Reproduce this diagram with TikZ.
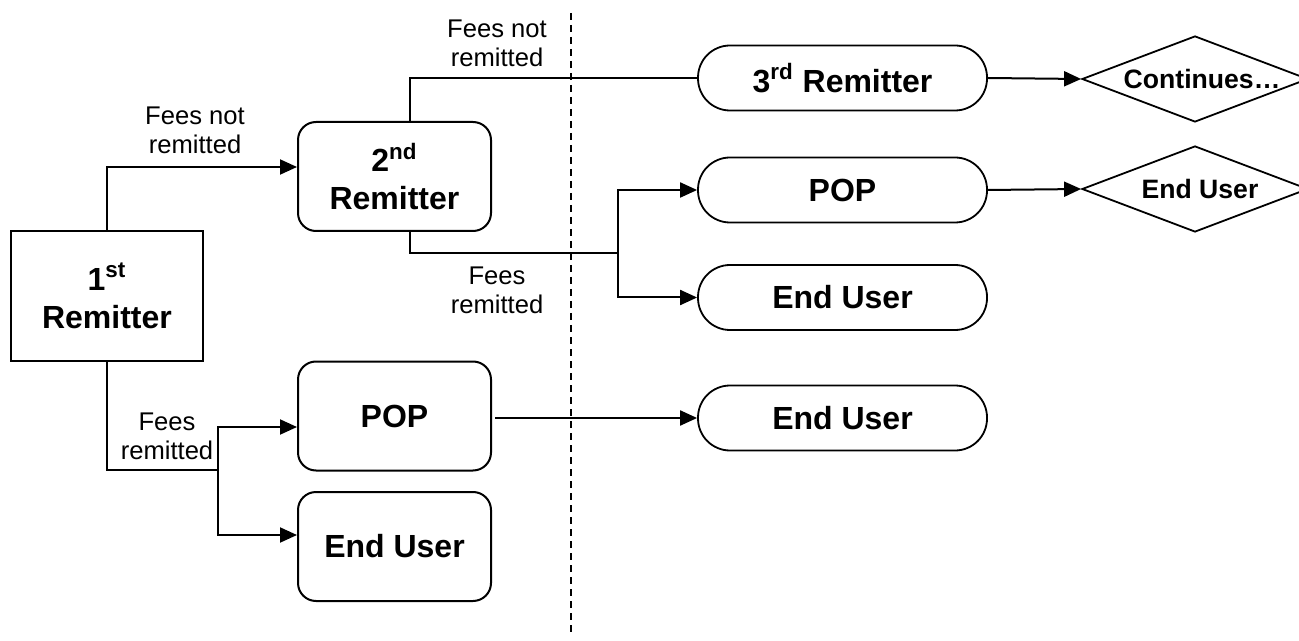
\documentclass[tikz,border=0pt]{standalone}
\usepackage{fontspec}
\setmainfont{Liberation Sans}
\usetikzlibrary{arrows.meta,shapes.geometric}
\begin{document}
\begin{tikzpicture}[x=0.5pt,y=-0.5pt,
  line width=1pt,
  arr/.style={-{Triangle[length=8.5pt,width=7.5pt]}},
  bigtxt/.style={font=\bfseries\fontsize{16}{19}\selectfont, align=center},
  sqbox/.style={draw, rectangle, minimum width=96pt, minimum height=65pt, bigtxt, inner sep=0pt},
  rbox/.style={draw, rectangle, rounded corners=9pt, minimum width=96.5pt, minimum height=54.5pt, bigtxt, inner sep=0pt},
  stad/.style={draw, rectangle, rounded corners=16pt, line width=0.9pt, minimum width=144.5pt, minimum height=32.5pt, bigtxt, inner sep=0pt},
  dia/.style={draw, diamond, aspect=2.63, minimum width=113pt, minimum height=43pt, inner sep=0pt, line width=0.9pt},
  diatxt/.style={font=\bfseries\fontsize{13.3}{15}\selectfont, inner sep=0pt},
  lbl/.style={font=\fontsize{12.8}{14.5}\selectfont, align=center, inner sep=0pt}
]
\useasboundingbox (0,0) rectangle (1299,641);

% nodes
\node[sqbox] (r1) at (107,296) {1\textsuperscript{st}\\Remitter};
\node[rbox] (r2) at (394.5,176.5) {2\textsuperscript{nd}\\Remitter};
\node[rbox] (pop1) at (394.5,416) {POP};
\node[rbox] (eu1) at (394.5,546.5) {End User};
\node[stad] (r3) at (842.5,78) {3\textsuperscript{rd} Remitter};
\node[stad] (pop2) at (842.5,190) {POP};
\node[stad] (eu2) at (842.5,297.5) {End User};
\node[stad] (eu3) at (842.5,418) {End User};
\node[dia] (d1) at (1195,79) {};
\node[dia] (d2) at (1195,189) {};
\node[diatxt] (t1) at (1202,79) {Continues\ldots};
\node[diatxt] (t2) at (1200,189) {End User};

% junctions
\coordinate (j1) at (618,253);
\coordinate (j2) at (218,470);
\coordinate (dtop) at (571,13);
\coordinate (dbot) at (571,635);

% dashed divider
\draw[line width=1pt, dash pattern=on 3.5pt off 2.5pt] (dtop) -- (dbot);

% connectors
\draw[arr] (r1.north) |- ([yshift=4.75pt]r2.west);
\draw ([xshift=7.75pt]r2.north) |- (r3.west);
\draw ([xshift=7.75pt]r2.south) |- (j1);
\draw[arr] (j1) |- (pop2.west);
\draw[arr] (j1) |- (eu2.west);
\draw (r1.south) |- (j2);
\draw[arr] (j2) |- ([yshift=-5.5pt]pop1.west);
\draw[arr] (j2) |- ([yshift=5.75pt]eu1.west);
\draw[arr] ([xshift=1.5pt]pop1.east |- eu3.west) -- (eu3.west);
\draw[arr] (r3.east) -- (d1.west);
\draw[arr] (pop2.east) -- (d2.west);

% labels
\node[lbl] (l1) at (195,130) {Fees not\\remitted};
\node[lbl] (l2) at (497,43) {Fees not\\remitted};
\node[lbl] (l3) at (497,290) {Fees\\remitted};
\node[lbl] (l4) at (167,436) {Fees\\remitted};
\end{tikzpicture}
\end{document}
